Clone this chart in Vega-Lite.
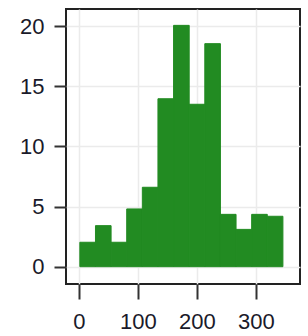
{
  "$schema": "https://vega.github.io/schema/vega-lite/v6.json",
  "width": 234,
  "height": 275,
  "autosize": "none",
  "padding": {"left": 66, "top": 9, "right": 8, "bottom": 52},
  "background": "white",
  "config": {
    "view": {"stroke": "#222222", "strokeWidth": 2},
    "axis": {
      "domain": false,
      "grid": true,
      "gridColor": "#ebebeb",
      "gridWidth": 1.5,
      "tickColor": "#333333",
      "tickWidth": 2,
      "labelFont": "Liberation Sans",
      "labelFontSize": 22,
      "labelColor": "#1a1a2a",
      "title": null
    }
  },
  "data": {
    "values": [
      {"start": 1.5, "end": 28, "count": 2.03},
      {"start": 28, "end": 54.5, "count": 3.41},
      {"start": 54.5, "end": 81, "count": 2.03},
      {"start": 81, "end": 107.5, "count": 4.8},
      {"start": 107.5, "end": 134, "count": 6.6},
      {"start": 134, "end": 160.5, "count": 13.96},
      {"start": 160.5, "end": 187, "count": 20.06},
      {"start": 187, "end": 213.5, "count": 13.5},
      {"start": 213.5, "end": 240, "count": 18.54},
      {"start": 240, "end": 266.5, "count": 4.35},
      {"start": 266.5, "end": 293, "count": 3.1},
      {"start": 293, "end": 319.5, "count": 4.35},
      {"start": 319.5, "end": 346, "count": 4.19}
    ]
  },
  "mark": {"type": "rect", "color": "#228B22", "stroke": "#228B22", "strokeWidth": 1},
  "encoding": {
    "x": {
      "field": "start",
      "type": "quantitative",
      "scale": {"domain": [-22, 375], "nice": false, "zero": false},
      "axis": {"values": [0, 100, 200, 300], "tickSize": 15, "labelPadding": 12, "labelFlush": false}
    },
    "x2": {"field": "end"},
    "y": {
      "field": "count",
      "type": "quantitative",
      "scale": {"domain": [-1.44, 21.42], "nice": false, "zero": false},
      "axis": {"values": [0, 5, 10, 15, 20], "tickSize": 12, "labelPadding": 10}
    },
    "y2": {"datum": 0}
  }
}
